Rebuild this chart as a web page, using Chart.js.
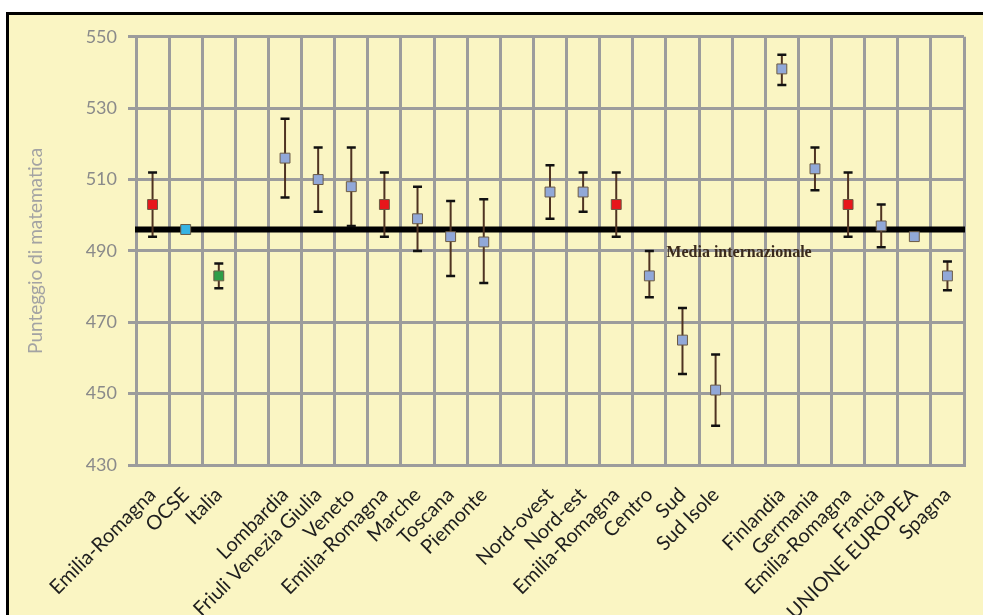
<!DOCTYPE html>
<html lang="it">
<head>
<meta charset="utf-8">
<title>Punteggio di matematica</title>
<script src="https://cdn.jsdelivr.net/npm/chart.js@4.4.1/dist/chart.umd.min.js"></script>
<style>
  html, body { margin: 0; padding: 0; background: #ffffff; overflow: hidden; }
  body { width: 983px; height: 615px; position: relative; }
  .frame {
    position: absolute; left: 6px; top: 12px; width: 1000px; height: 700px;
    border-top: 3px solid #000; border-left: 3px solid #000;
    background: #faf5c3;
  }
  #chart { position: absolute; left: 9px; top: 15px; }
</style>
</head>
<body>
<div class="frame"></div>
<canvas id="chart" width="974" height="600"></canvas>
<script>
// Categories (empty strings separate the groups)
const categories = [
  'Emilia-Romagna', 'OCSE', 'Italia', '',
  'Lombardia', 'Friuli Venezia Giulia', 'Veneto', 'Emilia-Romagna', 'Marche', 'Toscana', 'Piemonte', '',
  'Nord-ovest', 'Nord-est', 'Emilia-Romagna', 'Centro', 'Sud', 'Sud Isole', '',
  'Finlandia', 'Germania', 'Emilia-Romagna', 'Francia', 'UNIONE EUROPEA', 'Spagna'
];

// Mean score and confidence interval bounds
const scores = [503, 496, 483, null, 516, 510, 508, 503, 499, 494, 492.5, null,
                506.5, 506.5, 503, 483, 465, 451, null, 541, 513, 503, 497, 494, 483];
const lower  = [494, null, 479.5, null, 505, 501, 497, 494, 490, 483, 481, null,
                499, 501, 494, 477, 455.5, 441, null, 536.5, 507, 494, 491, null, 479];
const upper  = [512, null, 486.5, null, 527, 519, 519, 512, 508, 504, 504.5, null,
                514, 512, 512, 490, 474, 461, null, 545, 519, 512, 503, null, 487];

// Y axis ticks
const yTicks = [430, 450, 470, 490, 510, 530, 550];

// International average
const mediaInternazionale = 496;
const mediaLabel = 'Media internazionale';

function markerColor(name) {
  if (name === 'Emilia-Romagna') return '#e8161b';
  if (name === 'OCSE') return '#36b3e4';
  if (name === 'Italia') return '#2e9e48';
  return '#91a8d8';
}

// Draws the average line and the error bars beneath the markers
const errorBars = {
  id: 'errorBars',
  beforeDatasetsDraw(chart) {
    const { ctx, chartArea, scales: { x, y } } = chart;
    ctx.save();
    // average line
    const ym = y.getPixelForValue(mediaInternazionale);
    ctx.strokeStyle = '#000';
    ctx.lineWidth = 6;
    ctx.beginPath();
    ctx.moveTo(chartArea.left - 1, ym);
    ctx.lineTo(chartArea.right + 1, ym);
    ctx.stroke();

    // label of the average line
    ctx.fillStyle = '#3a2a1c';
    ctx.font = 'bold 16px "Liberation Serif", serif';
    ctx.textBaseline = 'middle';
    ctx.textAlign = 'left';
    ctx.fillText(mediaLabel, x.getPixelForValue(15) + 17, ym + 23);

    // error bars
    for (let i = 0; i < categories.length; i++) {
      if (lower[i] == null || upper[i] == null) continue;
      const px = x.getPixelForValue(i);
      const yl = y.getPixelForValue(lower[i]);
      const yh = y.getPixelForValue(upper[i]);
      ctx.strokeStyle = '#4f3322';
      ctx.lineWidth = 2;
      ctx.beginPath();
      ctx.moveTo(px, yh);
      ctx.lineTo(px, yl);
      ctx.stroke();
      ctx.strokeStyle = '#111';
      ctx.lineWidth = 2.5;
      ctx.beginPath();
      ctx.moveTo(px - 4.5, yh); ctx.lineTo(px + 4.5, yh);
      ctx.moveTo(px - 4.5, yl); ctx.lineTo(px + 4.5, yl);
      ctx.stroke();
    }
    ctx.restore();
  }
};

const gridColor = '#9c9c9c';

new Chart(document.getElementById('chart'), {
  type: 'line',
  data: {
    labels: categories,
    datasets: [{
      data: scores,
      showLine: false,
      pointStyle: 'rect',
      pointRadius: 7,
      pointHoverRadius: 7,
      pointBorderWidth: 1,
      pointBorderColor: '#6b5a45',
      pointBackgroundColor: categories.map(markerColor)
    }]
  },
  options: {
    responsive: false,
    maintainAspectRatio: false,
    animation: false,
    events: [],
    layout: { padding: { top: 19, right: 19, left: 0, bottom: 0 } },
    plugins: {
      legend: { display: false },
      tooltip: { enabled: false }
    },
    scales: {
      x: {
        type: 'category',
        offset: true,
        grid: { offset: true, color: gridColor, lineWidth: 3, drawTicks: false },
        border: { color: gridColor, width: 3 },
        ticks: {
          autoSkip: false,
          minRotation: 45,
          maxRotation: 45,
          padding: 18,
          color: '#1e1e1e',
          font: { family: 'Lato', size: 20 }
        },
        afterFit(s) { s.height = 150; }
      },
      y: {
        min: 430,
        max: 550,
        afterBuildTicks(s) { s.ticks = yTicks.map(v => ({ value: v })); },
        grid: { color: gridColor, lineWidth: 3, tickLength: 8 },
        border: { color: gridColor, width: 3 },
        ticks: {
          padding: 11,
          color: '#8a8a8a',
          font: { family: 'Lato', size: 18 }
        },
        title: {
          display: true,
          text: 'Punteggio di matematica',
          color: '#a3a3a3',
          font: { family: 'Lato', size: 19 },
          padding: { top: 15, bottom: 0 }
        },
        afterFit(s) { s.width = 127; }
      }
    }
  },
  plugins: [errorBars]
});
</script>
</body>
</html>
